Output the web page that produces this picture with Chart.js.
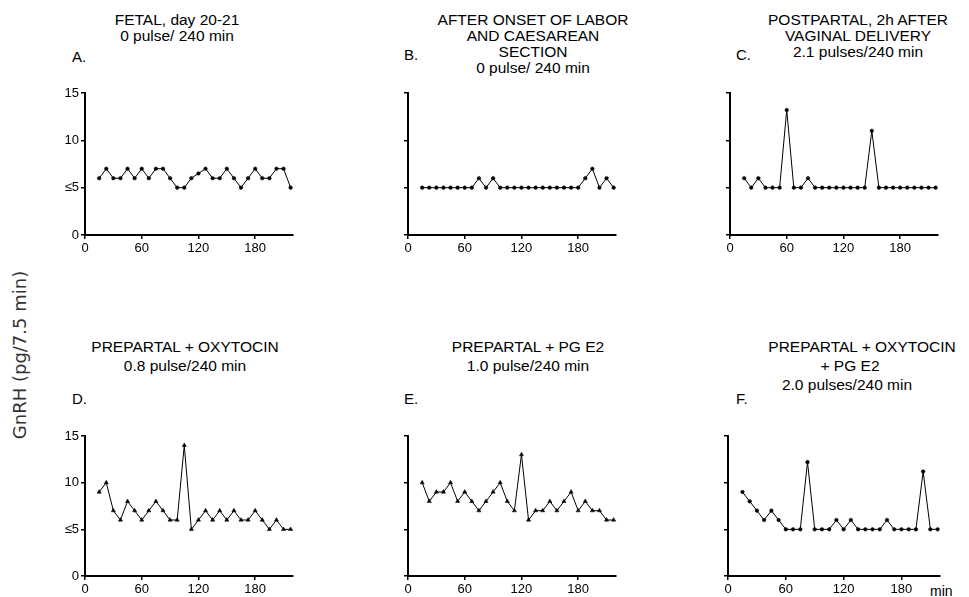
<!DOCTYPE html>
<html><head><meta charset="utf-8">
<script src="https://cdn.jsdelivr.net/npm/chart.js@4.4.0/dist/chart.umd.min.js"></script>
<style>
html,body{margin:0;padding:0;background:#fff;}
#wrap{position:relative;width:969px;height:597px;overflow:hidden;background:#fff;font-family:"Liberation Sans",Arial,sans-serif;color:#000;}
.t{position:absolute;white-space:nowrap;font-size:15.5px;line-height:16px;transform:translate(-50%,-50%);}
.l{position:absolute;white-space:nowrap;font-size:15px;line-height:16px;transform:translate(0,-50%);}
.ylab{position:absolute;left:19px;top:355px;white-space:nowrap;font-family:"DejaVu Sans",sans-serif;font-size:18px;color:#333;transform:translate(-50%,-50%) rotate(-90deg);}
canvas{position:absolute;}
</style></head><body><div id="wrap">
<div class="t" style="left:177px;top:20px">FETAL, day 20-21</div>
<div class="t" style="left:177px;top:36px">0 pulse/ 240 min</div>
<div class="l" style="left:72px;top:57px">A.</div>

<div class="t" style="left:533px;top:20px">AFTER ONSET OF LABOR</div>
<div class="t" style="left:533px;top:36px">AND CAESAREAN</div>
<div class="t" style="left:533px;top:52px">SECTION</div>
<div class="t" style="left:533px;top:68px">0 pulse/ 240 min</div>
<div class="l" style="left:404px;top:55px">B.</div>

<div class="t" style="left:858px;top:20px">POSTPARTAL, 2h AFTER</div>
<div class="t" style="left:858px;top:36px">VAGINAL DELIVERY</div>
<div class="t" style="left:858px;top:52px">2.1 pulses/240 min</div>
<div class="l" style="left:736px;top:55px">C.</div>

<div class="t" style="left:185px;top:347px">PREPARTAL + OXYTOCIN</div>
<div class="t" style="left:185px;top:366px">0.8 pulse/240 min</div>
<div class="l" style="left:72px;top:399px">D.</div>

<div class="t" style="left:528px;top:347px">PREPARTAL + PG E2</div>
<div class="t" style="left:528px;top:366px">1.0 pulse/240 min</div>
<div class="l" style="left:404px;top:399px">E.</div>

<div class="t" style="left:862px;top:347px">PREPARTAL + OXYTOCIN</div>
<div class="t" style="left:850px;top:366px">+ PG E2</div>
<div class="t" style="left:847px;top:385px">2.0 pulses/240 min</div>
<div class="l" style="left:736px;top:399px">F.</div>

<div class="ylab">GnRH (pg/7.5 min)</div>
<div class="l" style="left:930px;top:591px;font-size:14px">min</div>
</div>
<script>
// sampling times (min)
const minutes = [15, 22.5, 30, 37.5, 45, 52.5, 60, 67.5, 75, 82.5, 90, 97.5, 105, 112.5, 120, 127.5, 135, 142.5, 150, 157.5, 165, 172.5, 180, 187.5, 195, 202.5, 210, 217.5];
// GnRH (pg/7.5 min) per panel
const fetal      = [6, 7, 6, 6, 7, 6, 7, 6, 7, 7, 6, 5, 5, 6, 6.5, 7, 6, 6, 7, 6, 5, 6, 7, 6, 6, 7, 7, 5];
const labor      = [5, 5, 5, 5, 5, 5, 5, 5, 6, 5, 6, 5, 5, 5, 5, 5, 5, 5, 5, 5, 5, 5, 5, 6, 7, 5, 6, 5];
const postpartal = [6, 5, 6, 5, 5, 5, 13.2, 5, 5, 6, 5, 5, 5, 5, 5, 5, 5, 5, 11, 5, 5, 5, 5, 5, 5, 5, 5, 5];
const oxytocin   = [9, 10, 7, 6, 8, 7, 6, 7, 8, 7, 6, 6, 14, 5, 6, 7, 6, 7, 6, 7, 6, 6, 7, 6, 5, 6, 5, 5];
const pge2       = [10, 8, 9, 9, 10, 8, 9, 8, 7, 8, 9, 10, 8, 7, 13, 6, 7, 7, 8, 7, 8, 9, 7, 8, 7, 7, 6, 6];
const oxyPge2    = [9, 8, 7, 6, 7, 6, 5, 5, 5, 12.2, 5, 5, 5, 6, 5, 6, 5, 5, 5, 5, 6, 5, 5, 5, 5, 11.2, 5, 5];
// axis ticks
const xTicks = [0, 60, 120, 180];
const yTicks = [0, 5, 10, 15];
const yTickLabels = ['0', '\u22645', '10', '15'];

const panels = [
  {values: fetal,      left: 85,  top: 93,  w: 208, h: 142, labels: true,  style: 'circle'},
  {values: labor,      left: 408, top: 93,  w: 208, h: 142, labels: false, style: 'circle'},
  {values: postpartal, left: 730, top: 93,  w: 208, h: 142, labels: false, style: 'circle'},
  {values: oxytocin,   left: 85,  top: 436, w: 208, h: 140, labels: true,  style: 'triangle'},
  {values: pge2,       left: 408, top: 436, w: 208, h: 140, labels: false, style: 'triangle'},
  {values: oxyPge2,    left: 728, top: 436, w: 212, h: 140, labels: false, style: 'circle'}
];

const wrap = document.getElementById('wrap');
const PADL = 5, YW = 40, PADR = 15, PADT = 12, XH = 28, PADB = 2;
panels.forEach(p => {
  const c = document.createElement('canvas');
  const cw = PADL + YW + p.w + PADR, ch = PADT + p.h + XH + PADB;
  c.width = cw; c.height = ch;
  c.style.left = (p.left - PADL - YW) + 'px';
  c.style.top = (p.top - PADT) + 'px';
  c.style.width = cw + 'px'; c.style.height = ch + 'px';
  wrap.appendChild(c);
  const axisCommon = {
    grid: {display: true, drawOnChartArea: false, drawTicks: true, tickLength: 4, color: '#000', lineWidth: 1.5},
    border: {display: true, color: '#000', width: 2}
  };
  new Chart(c, {
    type: 'line',
    data: {datasets: [{
      data: minutes.map((m, i) => ({x: m, y: p.values[i]})),
      borderColor: '#000', borderWidth: 1, tension: 0,
      pointStyle: p.style, pointRadius: p.style === 'triangle' ? 2.4 : 1.8,
      pointBackgroundColor: '#000', pointBorderColor: '#000', pointBorderWidth: 0.5,
      clip: false
    }]},
    options: {
      responsive: false, animation: false, devicePixelRatio: 1,
      layout: {padding: {left: PADL, top: PADT, right: PADR, bottom: PADB}},
      plugins: {legend: {display: false}, tooltip: {enabled: false}, title: {display: false}},
      scales: {
        x: Object.assign({
          type: 'linear', min: 0, max: 220,
          afterBuildTicks: s => { s.ticks = xTicks.map(v => ({value: v})); },
          afterFit: s => { s.height = XH; },
          ticks: {color: '#000', font: {size: 13, family: 'Liberation Sans'}, padding: 2, maxRotation: 0, autoSkip: false,
                  callback: v => String(v)}
        }, axisCommon),
        y: Object.assign({
          type: 'linear', min: 0, max: 15,
          afterBuildTicks: s => { s.ticks = yTicks.map(v => ({value: v})); },
          afterFit: s => { s.width = YW; },
          ticks: {color: '#000', font: {size: 13, family: 'Liberation Sans'}, padding: 2, autoSkip: false,
                  callback: v => p.labels ? yTickLabels[yTicks.indexOf(v)] : ''}
        }, axisCommon)
      }
    }
  });
});
</script>
</body></html>
